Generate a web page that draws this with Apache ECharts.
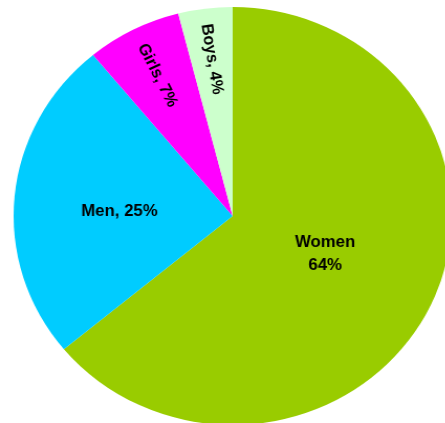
<!DOCTYPE html>
<html>
<head>
<meta charset="utf-8">
<script src="https://cdn.jsdelivr.net/npm/echarts@6/dist/echarts.min.js"></script>
<style>
  html, body { margin: 0; padding: 0; background: #fff; overflow: hidden; }
  /* the pie is drawn slightly wider than tall */
  #chart { width: 425px; height: 423px; transform: scaleX(1.048); transform-origin: 0 0; }
</style>
</head>
<body>
<div id="chart"></div>
<script>
const categories = ['Women', 'Men', 'Girls', 'Boys'];
const shares = [64, 25, 7, 4];
const colors = ['#99CC00', '#00CCFF', '#FF00FF', '#CCFFCC'];

const center = [222, 216];
const outerR = 209;
const font = { fontFamily: '"Liberation Sans", Arial, sans-serif', fontWeight: 'bold', fontSize: 16, color: '#000' };

// main slices, with the centred labels for the large groups
const innerOffsets = { Women: [-9, -8], Men: [-1, 6] };
const mainData = categories.map((name, i) => ({
  name, value: shares[i],
  itemStyle: { color: colors[i] },
  label: { show: name in innerOffsets, offset: innerOffsets[name] || [0, 0] }
}));

// transparent ring carrying the rotated labels of the narrow slices
const rotations = { Girls: -64, Boys: -81 };
const outerData = categories.map((name, i) => ({
  name, value: shares[i],
  itemStyle: { color: 'rgba(0,0,0,0)' },
  label: { show: name in rotations, rotate: rotations[name] || 0 }
}));

const chart = echarts.init(document.getElementById('chart'), null, { renderer: 'canvas' });
chart.setOption({
  animation: false,
  series: [
    {
      type: 'pie', center, radius: outerR, startAngle: 90, clockwise: true,
      silent: true,
      label: Object.assign({
        position: 'inside', lineHeight: 23, align: 'center',
        formatter: p => p.name === 'Women' ? p.name + '\n' + p.value + '%' : p.name + ', ' + p.value + '%'
      }, font),
      labelLine: { show: false },
      data: mainData
    },
    {
      type: 'pie', center, radius: [101, outerR], startAngle: 90, clockwise: true,
      silent: true, z: 3,
      label: Object.assign({
        position: 'inside',
        formatter: p => p.name + ', ' + p.value + '%'
      }, font),
      labelLine: { show: false },
      data: outerData
    }
  ]
});
</script>
</body>
</html>
